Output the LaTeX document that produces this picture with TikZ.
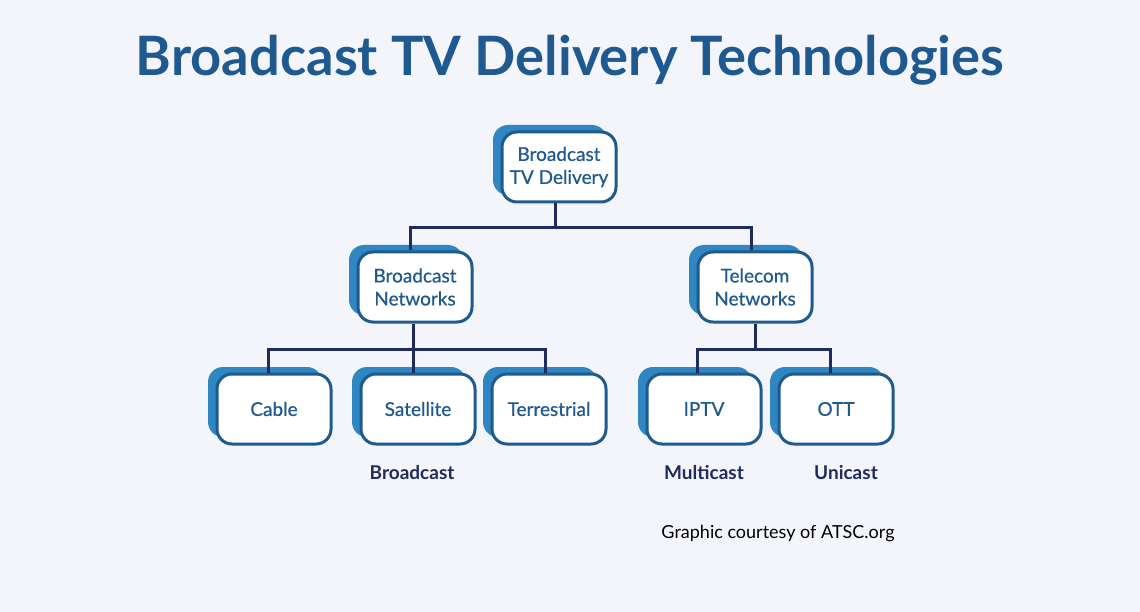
\documentclass[tikz,border=0pt]{standalone}
\usepackage{fontspec}
\setmainfont{Lato}
\newfontfamily\medfont{Lato}[FakeBold=0.6]
\usetikzlibrary{shadows,calc}
\definecolor{bg}{HTML}{F3F5FA}
\definecolor{titleblue}{HTML}{1E5A8F}
\definecolor{boxborder}{HTML}{1F5A8E}
\definecolor{shadowblue}{HTML}{2F86C0}
\definecolor{navy}{HTML}{1E2B5C}
\tikzset{
  box/.style={draw=boxborder, line width=3pt, fill=white, rounded corners=15pt,
    minimum width=114pt, minimum height=70pt, align=center, text=boxborder,
    font=\medfont\fontsize{19}{23}\selectfont,
    drop shadow={shadow xshift=-9pt, shadow yshift=7pt, fill=shadowblue, opacity=1, draw=none}},
  conn/.style={draw=navy, line width=3pt},
  lbl/.style={text=navy, font=\bfseries\fontsize{19}{23}\selectfont}
}
\begin{document}
\begin{tikzpicture}[x=1pt,y=-1pt]
\fill[bg] (0,0) rectangle (1140,612);
\useasboundingbox (0,0) rectangle (1140,612);
\node[text=titleblue, font=\bfseries\fontsize{54.3}{60}\selectfont] (title) at (570,60) {Broadcast TV Delivery Technologies};

\node[box] (top) at (559,167) {Broadcast\\TV Delivery};
\node[box] (bn) at (415,287) {Broadcast\\Networks};
\node[box] (tn) at (755,287) {Telecom\\Networks};
\node[box] (cable) at (274,409) {Cable};
\node[box] (sat) at (418,409) {Satellite};
\node[box] (ter) at (549,409) {Terrestrial};
\node[box] (iptv) at (704,409) {IPTV};
\node[box] (ott) at (836,409) {OTT};

\coordinate (j1) at (555,228);
\coordinate (j2) at (413,349);
\coordinate (j3) at (755,349);

\node[lbl] (lb) at (412,473) {Broadcast};
\node[lbl] (lm) at (704,473) {Multicast};
\node[lbl] (lu) at (846,473) {Unicast};
\node[text=black, font=\fontsize{18}{22}\selectfont] (credit) at (778,534) {Graphic courtesy of ATSC.org};

\draw[conn] ($(top.south)+(-4,0)$) |- (j1);
\draw[conn] (j1) -| ($(bn.north)+(-5,0)$);
\draw[conn] (j1) -| ($(tn.north)+(-4,0)$);
\draw[conn] ($(bn.south)+(-2,0)$) |- (j2);
\draw[conn] (j2) -| ($(cable.north)+(-6,0)$);
\draw[conn] (j2) -| ($(sat.north)+(-5,0)$);
\draw[conn] (j2) -| ($(ter.north)+(-4,0)$);
\draw[conn] (tn.south) |- (j3);
\draw[conn] (j3) -| ($(iptv.north)+(-7,0)$);
\draw[conn] (j3) -| ($(ott.north)+(-6,0)$);
\end{tikzpicture}
\end{document}
